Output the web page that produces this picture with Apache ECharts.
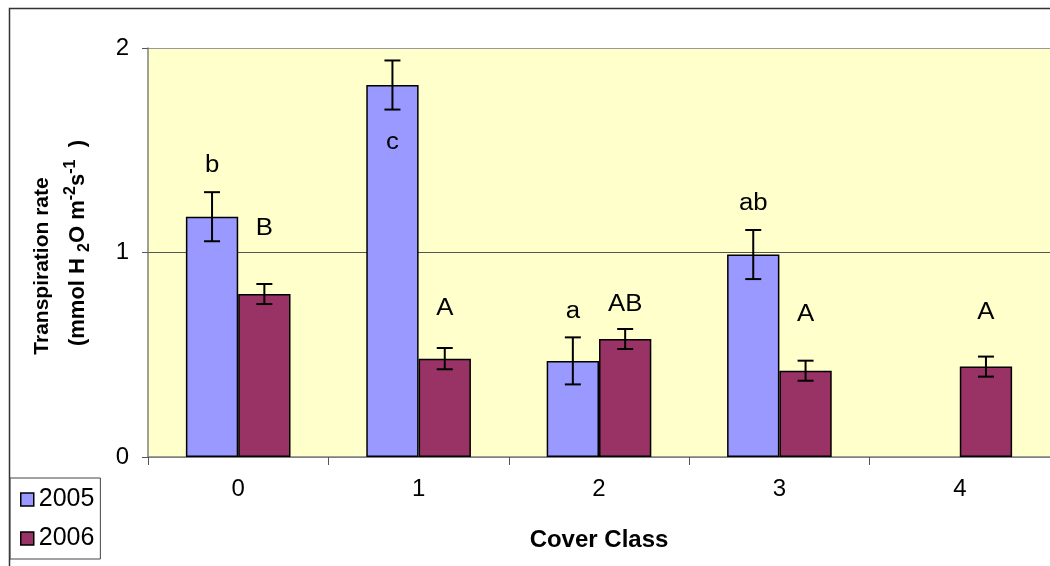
<!DOCTYPE html>
<html>
<head>
<meta charset="utf-8">
<script src="https://cdn.jsdelivr.net/npm/echarts@6/dist/echarts.min.js"></script>
<style>
html,body{margin:0;padding:0;background:#fff;}
#chart{width:1050px;height:566px;}
</style>
</head>
<body>
<div id="chart"></div>
<script>
// ---- data ----
const categories = ['0', '1', '2', '3', '4'];
const seriesNames = ['2005', '2006'];
const mean2005 = [1.175, 1.819, 0.470, 0.990, null];
const err2005 = [0.120, 0.120, 0.115, 0.120, null];
const mean2006 = [0.797, 0.481, 0.577, 0.422, 0.442];
const err2006 = [0.049, 0.052, 0.049, 0.049, 0.049];
const letters2005 = ['b', 'c', 'a', 'ab', ''];
const letterY2005 = [1.423, 1.535, 0.711, 1.240, null];
const letters2006 = ['B', 'A', 'AB', 'A', 'A'];
const letterY2006 = [1.115, 0.724, 0.743, 0.694, 0.706];
const yTicks = [0, 1, 2];

const colors = ['#9999FF', '#993366'];
const CAT_GAP = 0.42;
const FONT = 'Arial, "Liberation Sans", sans-serif';

function errData(means, errs) {
  const out = [];
  means.forEach((m, i) => {
    if (m != null && errs[i] != null) out.push([i, m - errs[i], m + errs[i]]);
  });
  return out;
}
function letterData(ys) {
  const out = [];
  ys.forEach((y, i) => { if (y != null) out.push([i, y]); });
  return out;
}

function errRender(side) {
  return function (params, api) {
    const idx = api.value(0);
    const lo = api.value(1), hi = api.value(2);
    const catW = api.size([1, 0])[0];
    const bw = catW * (1 - CAT_GAP) / 2;
    const pHi = api.coord([idx, hi]);
    const pLo = api.coord([idx, lo]);
    const x = pHi[0] + side * bw / 2;
    const cap = 8;
    const st = { stroke: '#000', lineWidth: 2 };
    return {
      type: 'group',
      children: [
        { type: 'line', shape: { x1: x, y1: pHi[1], x2: x, y2: pLo[1] }, style: st },
        { type: 'line', shape: { x1: x - cap, y1: pHi[1], x2: x + cap, y2: pHi[1] }, style: st },
        { type: 'line', shape: { x1: x - cap, y1: pLo[1], x2: x + cap, y2: pLo[1] }, style: st }
      ]
    };
  };
}

function letterRender(side, texts, ys) {
  const valid = [];
  ys.forEach((y, i) => { if (y != null) valid.push(i); });
  return function (params, api) {
    const idx = api.value(0);
    const y = api.value(1);
    const catW = api.size([1, 0])[0];
    const bw = catW * (1 - CAT_GAP) / 2;
    const p = api.coord([idx, y]);
    return {
      type: 'text',
      x: p[0] + side * bw / 2,
      y: p[1],
      scaleX: 1.12,
      style: {
        text: texts[valid[params.dataIndex]],
        fontSize: 23,
        fontFamily: FONT,
        fill: '#000',
        align: 'center',
        verticalAlign: 'middle',
        textAlign: 'center',
        textVerticalAlign: 'middle'
      }
    };
  };
}

const chart = echarts.init(document.getElementById('chart'), null, { renderer: 'canvas' });

const option = {
  animation: false,
  backgroundColor: '#fff',
  textStyle: { fontFamily: FONT },
  grid: {
    left: 148, top: 48, width: 904, height: 409,
    show: true, backgroundColor: '#FFFFCC', borderWidth: 0
  },
  legend: {
    data: seriesNames,
    orient: 'vertical',
    left: 10, top: 478,
    padding: [9, 6, 8, 10],
    itemGap: 14,
    itemWidth: 13, itemHeight: 13,
    icon: 'rect',
    borderColor: '#444', borderWidth: 1,
    itemStyle: { borderColor: '#000', borderWidth: 1.5 },
    textStyle: { fontSize: 25, color: '#000', fontFamily: FONT, padding: [0, 0, 0, 0] }
  },
  xAxis: {
    type: 'category',
    data: categories,
    boundaryGap: true,
    name: 'Cover Class',
    nameLocation: 'middle',
    nameGap: 71,
    nameTextStyle: { fontSize: 24, fontWeight: 'bold', color: '#000', fontFamily: FONT },
    axisLine: { lineStyle: { color: '#808080', width: 1.5 } },
    axisTick: { show: true, length: 8, lineStyle: { color: '#555' } },
    axisLabel: { fontSize: 24, color: '#000', margin: 20, fontFamily: FONT },
    splitLine: { show: false }
  },
  yAxis: {
    type: 'value',
    min: yTicks[0], max: yTicks[yTicks.length - 1], interval: 1,
    axisLine: { show: true, lineStyle: { color: '#808080', width: 1.5 } },
    axisTick: { show: true, length: 6, lineStyle: { color: '#555' } },
    axisLabel: { fontSize: 24, color: '#000', margin: 19, fontFamily: FONT },
    splitLine: { show: true, lineStyle: { color: ['#808080', '#555', '#999'], width: 1.2 } }
  },
  series: [
    {
      name: seriesNames[0], type: 'bar', data: mean2005.map(v => v == null ? '-' : v),
      barGap: '0%', barCategoryGap: (CAT_GAP * 100) + '%',
      itemStyle: { color: colors[0], borderColor: '#000', borderWidth: 1.5 }, z: 2
    },
    {
      name: seriesNames[1], type: 'bar', data: mean2006,
      barGap: '0%', barCategoryGap: (CAT_GAP * 100) + '%',
      itemStyle: { color: colors[1], borderColor: '#000', borderWidth: 1.5 }, z: 2
    },
    {
      name: 'err2005', type: 'custom', data: errData(mean2005, err2005),
      encode: { x: 0, y: [1, 2] }, renderItem: errRender(-1), z: 5, silent: true
    },
    {
      name: 'err2006', type: 'custom', data: errData(mean2006, err2006),
      encode: { x: 0, y: [1, 2] }, renderItem: errRender(1), z: 5, silent: true
    },
    {
      name: 'let2005', type: 'custom', data: letterData(letterY2005),
      encode: { x: 0, y: 1 }, renderItem: letterRender(-1, letters2005, letterY2005), z: 6, silent: true
    },
    {
      name: 'let2006', type: 'custom', data: letterData(letterY2006),
      encode: { x: 0, y: 1 }, renderItem: letterRender(1, letters2006, letterY2006), z: 6, silent: true
    }
  ],
  graphic: [
    {
      type: 'rect', left: 7, top: 6, z: -10, silent: true,
      shape: { width: 1100, height: 620 },
      style: { fill: 'none', stroke: '#333', lineWidth: 1.5 }
    },
    {
      type: 'text', x: 42, y: 266, rotation: Math.PI / 2, silent: true,
      style: {
        text: 'Transpiration rate',
        font: 'bold 21px ' + FONT, fill: '#000',
        align: 'center', verticalAlign: 'middle',
        textAlign: 'center', textVerticalAlign: 'middle'
      }
    },
    {
      type: 'text', x: 78, y: 243, rotation: Math.PI / 2, silent: true,
      style: {
        text: '{b|(mmol H }{sub|2}{b|O m}{sup|-2}{b|s}{sup|-1}{b|  )}',
        fill: '#000',
        align: 'center', verticalAlign: 'middle',
        textAlign: 'center', textVerticalAlign: 'middle',
        rich: {
          b: { fontSize: 22, fontWeight: 'bold', fontFamily: FONT, fill: '#000', lineHeight: 30, verticalAlign: 'middle' },
          sub: { fontSize: 16, fontWeight: 'bold', fontFamily: FONT, fill: '#000', lineHeight: 18, verticalAlign: 'bottom' },
          sup: { fontSize: 16, fontWeight: 'bold', fontFamily: FONT, fill: '#000', lineHeight: 18, verticalAlign: 'top' }
        }
      }
    }
  ]
};
chart.setOption(option);
</script>
</body>
</html>
